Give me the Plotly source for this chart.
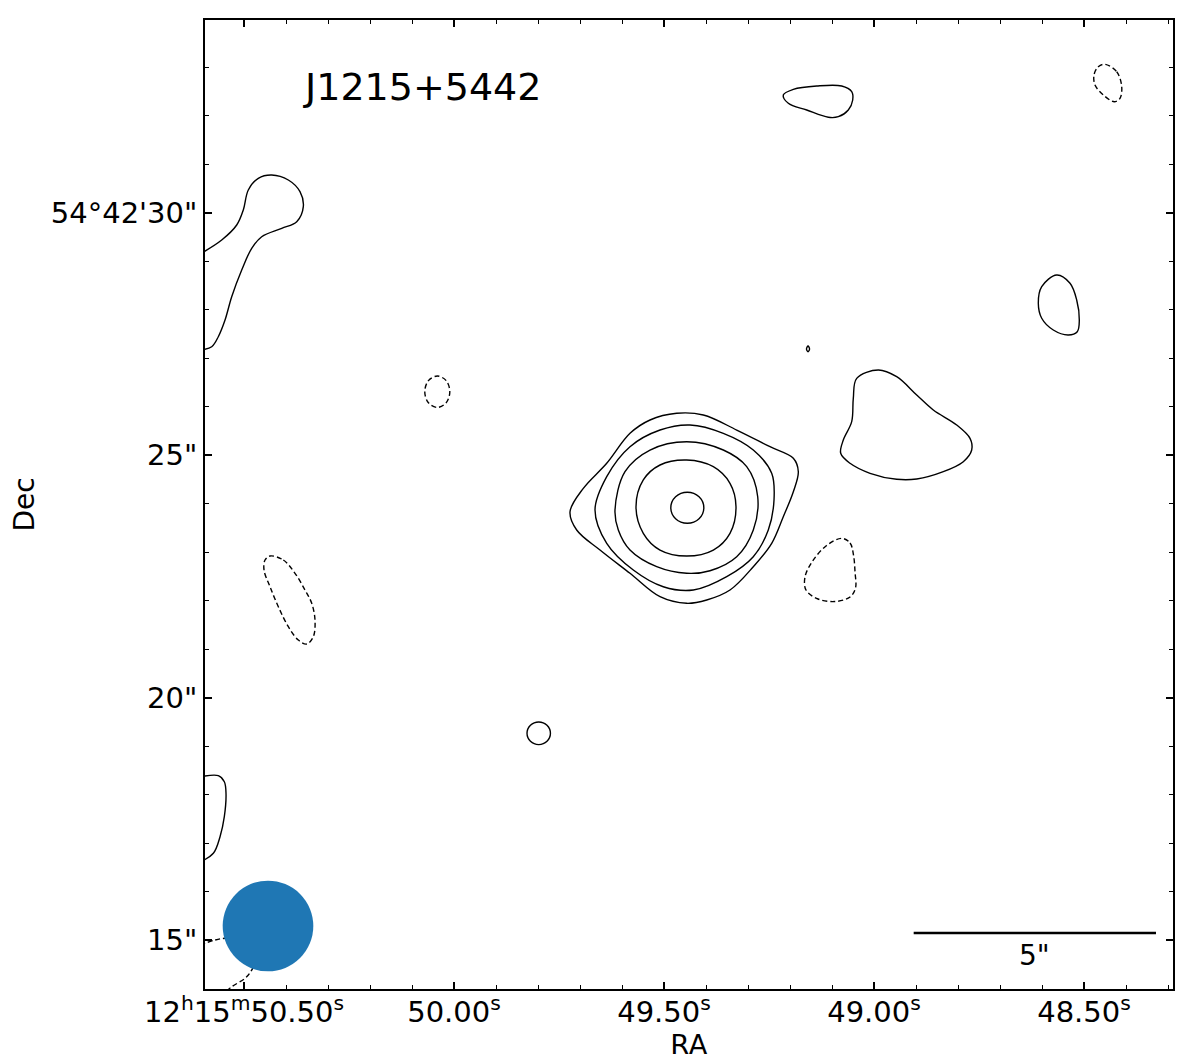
import plotly.graph_objects as go
import numpy as np

# contour vertices: RA = seconds after 12h15m, Dec = arcsec after +54d42m
core1_ra = [49.4052, 49.4166, 49.4445, 49.4724, 49.4838, 49.4724, 49.4445, 49.4166]
core1_dec = [23.913, 24.140, 24.233, 24.140, 23.913, 23.686, 23.593, 23.686]
core2_ra = [49.5667, 49.5493, 49.5095, 49.4460, 49.3826, 49.3429, 49.3286, 49.3429,
            49.3826, 49.4460, 49.5095, 49.5493]
core2_dec = [23.934, 24.485, 24.794, 24.897, 24.759, 24.417, 23.934, 23.386,
             23.041, 22.918, 23.041, 23.386]
core3_ra = [49.6167, 49.5929, 49.5333, 49.4460, 49.3588, 49.3031, 49.2769, 49.2874,
            49.3269, 49.3905, 49.4460, 49.5174, 49.5810, 49.6088]
core3_dec = [23.866, 24.656, 25.103, 25.274, 25.103, 24.759, 24.140, 23.454,
             22.903, 22.614, 22.561, 22.697, 23.041, 23.454]
core4_ra = [49.6643, 49.6364, 49.5810, 49.5095, 49.4381, 49.3588, 49.2874, 49.2436,
            49.2381, 49.2517, 49.2874, 49.3507, 49.4302, 49.5017, 49.5731, 49.6364]
core4_dec = [23.866, 24.553, 25.171, 25.515, 25.619, 25.447, 25.103, 24.623,
             24.072, 23.454, 22.903, 22.491, 22.216, 22.284, 22.629, 23.179]
core5_ra = [49.7238, 49.6921, 49.6364, 49.5810, 49.5333, 49.4698, 49.4064, 49.3269,
            49.2476, 49.1921, 49.1802, 49.1921, 49.2160, 49.2436, 49.2874, 49.3429,
            49.3983, 49.4460, 49.5095, 49.5810, 49.6524, 49.7079]
core5_dec = [23.831, 24.313, 24.829, 25.447, 25.722, 25.860, 25.825, 25.515,
             25.171, 24.932, 24.656, 24.243, 23.728, 23.179, 22.697, 22.216,
             22.010, 21.942, 22.078, 22.561, 23.041, 23.454]

blob_e_ra = [49.0412, 48.9898, 48.9460, 48.8983, 48.8588, 48.8031, 48.7714, 48.7674,
             48.7874, 48.8350, 48.8983, 48.9460, 49.0095, 49.0571, 49.0793, 49.0731,
             49.0531, 49.0493]
blob_e_dec = [26.581, 26.753, 26.614, 26.237, 25.928, 25.619, 25.344, 25.103,
              24.862, 24.656, 24.505, 24.499, 24.623, 24.829, 25.035, 25.309,
              25.687, 26.169]
blob_n_ra = [49.2160, 49.1921, 49.1364, 49.0769, 49.0531, 49.0507, 49.0612, 49.0850,
             49.1088, 49.1602, 49.2040]
blob_n_dec = [32.423, 32.540, 32.608, 32.608, 32.491, 32.320, 32.113, 31.975,
              31.963, 32.113, 32.252]
blob_ne_ra = [48.5650, 48.5333, 48.5174, 48.5112, 48.5160, 48.5374, 48.5731, 48.6007,
              48.6088, 48.6007]
blob_ne_dec = [28.711, 28.540, 28.196, 27.783, 27.542, 27.474, 27.577, 27.819,
               28.128, 28.470]
blob_s_ra = [49.7704, 49.7786, 49.7983, 49.8180, 49.8262, 49.8180, 49.7983, 49.7786]
blob_s_dec = [19.262, 19.427, 19.495, 19.427, 19.262, 19.097, 19.029, 19.097]
speck_ra = [49.1535, 49.1571, 49.1607, 49.1571]
speck_dec = [27.186, 27.246, 27.186, 27.126]

# open contours running off the west edge
edge_nw_ra = [50.6048, 50.5531, 50.5174, 50.5017, 50.4898, 50.4660, 50.4341, 50.3945,
              50.3667, 50.3588, 50.3745, 50.4102, 50.4579, 50.4817, 50.5055, 50.5293,
              50.5452, 50.5612, 50.5769, 50.6048]
edge_nw_dec = [29.144, 29.433, 29.742, 30.052, 30.464, 30.705, 30.773, 30.670,
               30.429, 30.120, 29.810, 29.674, 29.501, 29.262, 28.814, 28.264,
               27.783, 27.439, 27.233, 27.165]
edge_sw_ra = [50.6048, 50.5612, 50.5469, 50.5429, 50.5469, 50.5571, 50.5731, 50.6048]
edge_sw_dec = [18.361, 18.388, 18.264, 18.025, 17.542, 17.130, 16.788, 16.608]

# negative contours
neg_a_ra = [50.0100, 50.0187, 50.0398, 50.0609, 50.0696, 50.0609, 50.0398, 50.0187]
neg_a_dec = [26.305, 26.534, 26.629, 26.534, 26.305, 26.076, 25.981, 26.076]
neg_b_ra = [50.4381, 50.4064, 50.3786, 50.3548, 50.3388, 50.3310, 50.3350, 50.3507,
            50.3707, 50.3945, 50.4183, 50.4381, 50.4524, 50.4500]
neg_b_dec = [22.918, 22.835, 22.561, 22.216, 21.942, 21.598, 21.254, 21.103,
             21.185, 21.460, 21.872, 22.284, 22.629, 22.835]
neg_c_ra = [49.0769, 49.0571, 49.0488, 49.0452, 49.0440, 49.0571, 49.0929, 49.1333,
            49.1619, 49.1643, 49.1476, 49.1143]
neg_c_dec = [23.282, 23.186, 22.938, 22.588, 22.258, 22.072, 21.979, 22.031,
             22.216, 22.485, 22.794, 23.124]
neg_d_ra = [48.4500, 48.4221, 48.4102, 48.4143, 48.4279, 48.4540, 48.4738, 48.4762,
            48.4660]
neg_d_dec = [33.056, 32.903, 32.594, 32.355, 32.284, 32.423, 32.629, 32.835, 33.006]
neg_edge_ra = [50.6048, 50.5690, 50.5452, 50.4976, 50.4667, 50.4817, 50.4976,
               50.5293, 50.5524]
neg_edge_dec = [14.897, 15.000, 15.035, 15.000, 14.753, 14.381, 14.210, 14.037, 13.866]

# axes
ra_ticks = [50.5, 50.0, 49.5, 49.0, 48.5]
ra_labels = ["12<sup>h</sup>15<sup>m</sup>50.50<sup>s</sup>", "50.00<sup>s</sup>",
             "49.50<sup>s</sup>", "49.00<sup>s</sup>", "48.50<sup>s</sup>"]
dec_ticks = [15, 20, 25, 30]
dec_labels = ['15"', '20"', '25"', '54°42\'30"']
ra_range = [50.5929, 48.2881]
dec_range = [13.990, 33.969]

# beam, scale bar, name
beam_ra, beam_dec, beam_fwhm = 50.4429, 15.289, 1.87
bar_ra_end, bar_dec, bar_len = 48.3286, 15.144, 5.0
source_name = "J1215+5442"
name_ra, name_dec = 50.0762, 32.588

sec_to_arcsec = 15 * np.cos(np.radians(54 + 42 / 60 + 24 / 3600))
FONT = "DejaVu Sans"

closed_pos = [(core1_ra, core1_dec), (core2_ra, core2_dec), (core3_ra, core3_dec),
              (core4_ra, core4_dec), (core5_ra, core5_dec), (blob_e_ra, blob_e_dec),
              (blob_n_ra, blob_n_dec), (blob_ne_ra, blob_ne_dec),
              (blob_s_ra, blob_s_dec), (speck_ra, speck_dec)]
open_pos = [(edge_nw_ra, edge_nw_dec), (edge_sw_ra, edge_sw_dec)]
closed_neg = [(neg_a_ra, neg_a_dec), (neg_b_ra, neg_b_dec), (neg_c_ra, neg_c_dec),
              (neg_d_ra, neg_d_dec)]
open_neg = [(neg_edge_ra, neg_edge_dec)]

fig = go.Figure()


def add_contour(ra, dec, closed, dash):
    if closed:
        ra = ra + ra[:1]
        dec = dec + dec[:1]
    fig.add_trace(go.Scatter(x=ra, y=dec, mode="lines", showlegend=False,
                             hoverinfo="skip",
                             line=dict(color="black", width=1.4, shape="spline",
                                       smoothing=1, dash=dash)))


for ra, dec in closed_pos:
    add_contour(ra, dec, True, "solid")
for ra, dec in open_pos:
    add_contour(ra, dec, False, "solid")
for ra, dec in closed_neg:
    add_contour(ra, dec, True, "5px,3px")
for ra, dec in open_neg:
    add_contour(ra, dec, False, "5px,3px")

# synthesized beam
half_dec = beam_fwhm / 2
half_ra = half_dec / sec_to_arcsec
fig.add_shape(type="circle", xref="x", yref="y",
              x0=beam_ra - half_ra, x1=beam_ra + half_ra,
              y0=beam_dec - half_dec, y1=beam_dec + half_dec,
              fillcolor="#1f77b4", line=dict(width=0), layer="above")

# scale bar
bar_ra_start = bar_ra_end + bar_len / sec_to_arcsec
fig.add_shape(type="line", xref="x", yref="y", x0=bar_ra_start, x1=bar_ra_end,
              y0=bar_dec, y1=bar_dec, line=dict(color="black", width=2.5))
fig.add_annotation(x=(bar_ra_start + bar_ra_end) / 2, y=bar_dec, yanchor="top",
                   yshift=-4, text='%d"' % bar_len, showarrow=False,
                   font=dict(family=FONT, size=28, color="black"))

fig.add_annotation(x=name_ra, y=name_dec, text=source_name, showarrow=False,
                   font=dict(family=FONT, size=38, color="black"))

axis_style = dict(showline=True, linecolor="black", linewidth=1.8, mirror="ticks",
                  ticks="inside", ticklen=7, tickwidth=1.5, tickcolor="black",
                  showgrid=False, zeroline=False, tickmode="array", automargin=False,
                  tickfont=dict(family=FONT, size=29, color="black"))

fig.update_xaxes(range=ra_range, tickvals=ra_ticks, ticktext=ra_labels,
                 ticklabelstandoff=-4,
                 minor=dict(ticks="inside", ticklen=4, tickwidth=1.2, tickcolor="black",
                            dtick=0.1, tick0=48.5, showgrid=False),
                 title=dict(text="RA", font=dict(family=FONT, size=28, color="black"),
                            standoff=32),
                 **axis_style)
fig.update_yaxes(range=dec_range, tickvals=dec_ticks, ticktext=dec_labels,
                 minor=dict(ticks="inside", ticklen=4, tickwidth=1.2, tickcolor="black",
                            dtick=1, tick0=15, showgrid=False),
                 title=dict(text="Dec", font=dict(family=FONT, size=28, color="black"),
                            standoff=16),
                 **axis_style)

# page body adds an 8px offset, margins compensate
fig.update_layout(width=1200, height=1054, plot_bgcolor="white", paper_bgcolor="white",
                  margin=dict(l=197, r=35, t=12, b=73),
                  font=dict(family=FONT, color="black"))

fig.write_html("out.html")
